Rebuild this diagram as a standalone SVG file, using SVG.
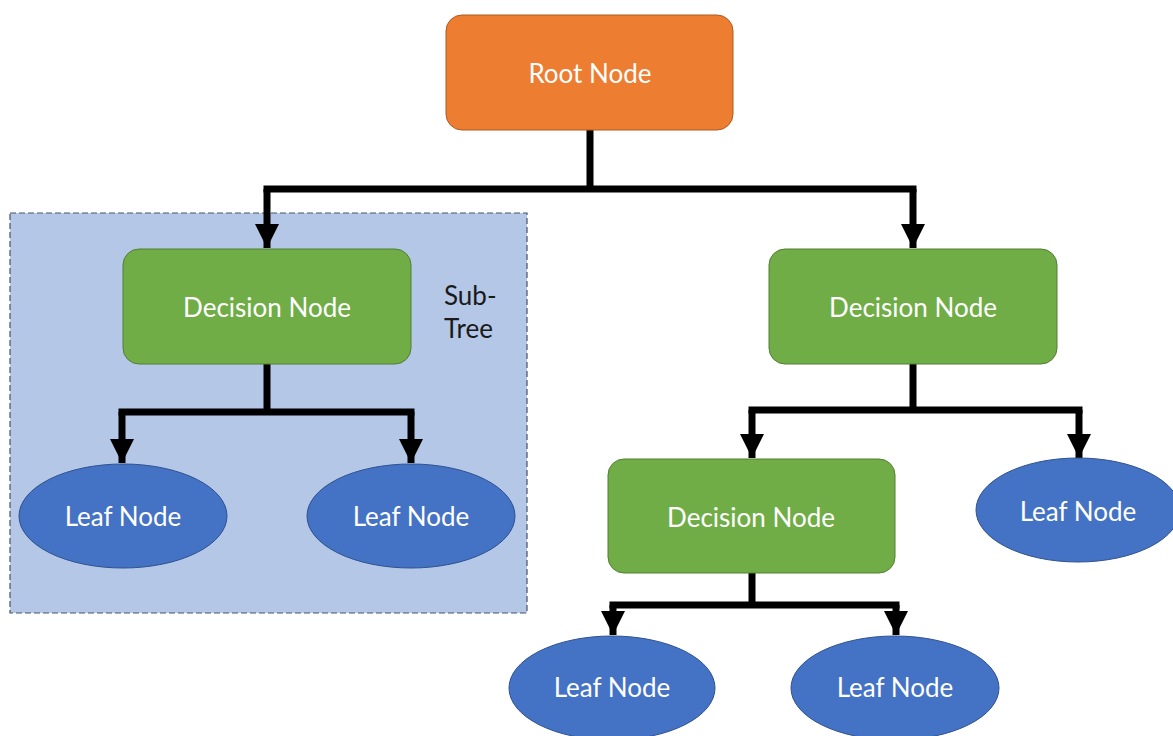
<svg xmlns="http://www.w3.org/2000/svg" width="1173" height="736" viewBox="0 0 1173 736">
  <style>
    .root { fill: #ED7D31; stroke: #AE5A21; stroke-width: 1; }
    .decision { fill: #70AD47; stroke: #507E32; stroke-width: 1; }
    .leaf { fill: #4472C4; stroke: #2F528F; stroke-width: 1; }
    .label { font-family: Lato, "Liberation Sans", sans-serif; font-size: 26px; fill: #FFFFFF; text-anchor: middle; dominant-baseline: central; }
    .note { font-family: Lato, "Liberation Sans", sans-serif; font-size: 26px; fill: #1A1A1A; }
    .wire { fill: none; stroke: #000000; stroke-width: 7; stroke-linejoin: miter; stroke-linecap: butt; }
    .region { fill: #B4C7E7; stroke: #44546A; stroke-width: 1.2; stroke-dasharray: 6 3; }
  </style>
  <defs>
    <marker id="head" markerUnits="userSpaceOnUse" markerWidth="25" markerHeight="25" refX="24" refY="12" orient="auto">
      <path d="M0,0 L24,12 L0,24 Z" fill="#000000"/>
    </marker>
  </defs>

  <rect width="1173" height="736" fill="#FFFFFF"/>

  <!-- dashed sub-tree region -->
  <g id="subtree">
    <rect class="region" x="10" y="213" width="517" height="400"/>
    <text class="note" x="444" y="305">Sub-</text>
    <text class="note" x="444" y="338">Tree</text>
  </g>

  <!-- connectors -->
  <g id="connectors">
    <path class="wire" d="M590,130 V189 M263.5,189 H916.5"/>
    <path class="wire" d="M267,189 V248" marker-end="url(#head)"/>
    <path class="wire" d="M913,189 V248" marker-end="url(#head)"/>

    <path class="wire" d="M267,364 V412 M118.5,412 H414.5"/>
    <path class="wire" d="M122,412 V463" marker-end="url(#head)"/>
    <path class="wire" d="M411,412 V463" marker-end="url(#head)"/>

    <path class="wire" d="M913,364 V410 M748.5,410 H1082.5"/>
    <path class="wire" d="M752,410 V458" marker-end="url(#head)"/>
    <path class="wire" d="M1079,410 V458" marker-end="url(#head)"/>

    <path class="wire" d="M752,573 V605 M609.5,605 H899.5"/>
    <path class="wire" d="M613,605 V635" marker-end="url(#head)"/>
    <path class="wire" d="M896,605 V635" marker-end="url(#head)"/>
  </g>

  <g id="root-node">
    <rect class="root" x="446" y="15" width="287" height="115" rx="16"/>
    <text class="label" x="590" y="73">Root Node</text>
  </g>

  <g id="decision-left">
    <rect class="decision" x="123" y="249" width="288" height="115" rx="16"/>
    <text class="label" x="267" y="307">Decision Node</text>
  </g>

  <g id="decision-right">
    <rect class="decision" x="769" y="249" width="288" height="115" rx="16"/>
    <text class="label" x="913" y="307">Decision Node</text>
  </g>

  <g id="decision-mid">
    <rect class="decision" x="608" y="459" width="287" height="114" rx="16"/>
    <text class="label" x="751" y="517">Decision Node</text>
  </g>

  <g id="leaf-1">
    <ellipse class="leaf" cx="123" cy="516" rx="104" ry="52"/>
    <text class="label" x="123" y="516">Leaf Node</text>
  </g>

  <g id="leaf-2">
    <ellipse class="leaf" cx="411" cy="516" rx="104" ry="52"/>
    <text class="label" x="411" y="516">Leaf Node</text>
  </g>

  <g id="leaf-3">
    <ellipse class="leaf" cx="1078" cy="510" rx="102" ry="52"/>
    <text class="label" x="1078" y="511">Leaf Node</text>
  </g>

  <g id="leaf-4">
    <ellipse class="leaf" cx="612" cy="688" rx="103" ry="52"/>
    <text class="label" x="612" y="687">Leaf Node</text>
  </g>

  <g id="leaf-5">
    <ellipse class="leaf" cx="895" cy="688" rx="104" ry="52"/>
    <text class="label" x="895" y="687">Leaf Node</text>
  </g>
</svg>
